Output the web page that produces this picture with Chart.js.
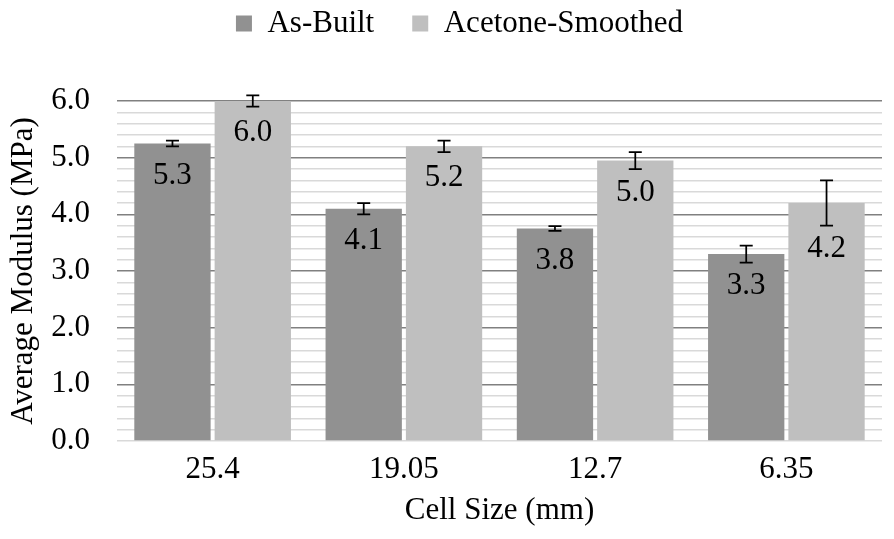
<!DOCTYPE html>
<html>
<head>
<meta charset="utf-8">
<script src="https://cdn.jsdelivr.net/npm/chart.js@4"></script>
<style>
  html, body { margin: 0; padding: 0; background: #fff; }
  #wrap { width: 894px; height: 539px; position: relative; }
</style>
</head>
<body>
<div id="wrap"><canvas id="modulusChart"></canvas></div>
<script>
// data
const cellSizes = ["25.4", "19.05", "12.7", "6.35"];
const asBuilt = [5.25, 4.1, 3.75, 3.3];
const asBuiltErr = [0.05, 0.1, 0.04, 0.15];
const asBuiltLabels = ["5.3", "4.1", "3.8", "3.3"];
const smoothed = [6.0, 5.2, 4.95, 4.2];
const smoothedErr = [0.1, 0.1, 0.15, 0.4];
const smoothedLabels = ["6.0", "5.2", "5.0", "4.2"];

const serif = "'Liberation Serif', 'Times New Roman', serif";
const errs = [asBuiltErr, smoothedErr];
const valueLabels = [asBuiltLabels, smoothedLabels];

// bump the legend box so the plot starts lower
const legendSpace = {
  id: 'legendSpace',
  beforeInit(chart) {
    const fit = chart.legend.fit;
    chart.legend.fit = function () {
      fit.bind(chart.legend)();
      this.height += 52;
    };
  },
  afterLayout(chart) {
    chart.legend.left += 16;
    chart.legend.right += 16;
  }
};

// error bars + value labels inside the bar ends
const barExtras = {
  id: 'barExtras',
  afterDatasetsDraw(chart) {
    const ctx = chart.ctx;
    const y = chart.scales.y;
    chart.data.datasets.forEach((ds, di) => {
      const meta = chart.getDatasetMeta(di);
      meta.data.forEach((bar, i) => {
        const v = ds.data[i];
        const e = errs[di][i];
        const yHi = y.getPixelForValue(v + e);
        const yLo = y.getPixelForValue(v - e);
        ctx.save();
        ctx.strokeStyle = '#000';
        ctx.lineWidth = 1.75;
        ctx.beginPath();
        ctx.moveTo(bar.x, yHi);
        ctx.lineTo(bar.x, yLo);
        ctx.moveTo(bar.x - 6.5, yHi);
        ctx.lineTo(bar.x + 6.5, yHi);
        ctx.moveTo(bar.x - 6.5, yLo);
        ctx.lineTo(bar.x + 6.5, yLo);
        ctx.stroke();

        const ty = Math.max(bar.y + 32, yLo + 23);
        ctx.fillStyle = '#000';
        ctx.font = '31px ' + serif;
        ctx.textAlign = 'center';
        ctx.textBaseline = 'middle';
        ctx.fillText(valueLabels[di][i], bar.x, ty);
        ctx.restore();
      });
    });
  }
};

const ctx = document.getElementById('modulusChart').getContext('2d');
new Chart(ctx, {
  type: 'bar',
  data: {
    labels: cellSizes,
    datasets: [
      {
        label: 'As-Built',
        data: asBuilt,
        backgroundColor: '#919191',
        barPercentage: 0.95,
        categoryPercentage: 0.84
      },
      {
        label: 'Acetone-Smoothed',
        data: smoothed,
        backgroundColor: '#bfbfbf',
        barPercentage: 0.95,
        categoryPercentage: 0.84
      }
    ]
  },
  options: {
    responsive: true,
    maintainAspectRatio: false,
    animation: false,
    layout: {
      padding: { top: -30, left: 5, right: 12, bottom: 8 }
    },
    scales: {
      x: {
        afterFit: s => { s.height = 90; },
        grid: { display: false },
        border: { display: false },
        ticks: {
          color: '#000',
          padding: 2,
          font: { family: serif, size: 31 }
        },
        title: {
          display: true,
          text: 'Cell Size (mm)',
          color: '#000',
          padding: { top: 4, bottom: 2 },
          font: { family: serif, size: 31 }
        }
      },
      y: {
        min: 0,
        max: 6,
        afterFit: s => { s.width = 112; },
        border: { display: false },
        grid: {
          drawTicks: false,
          lineWidth: 1.5,
          color: c => {
            const v = c.tick ? c.tick.value : 0;
            const major = Math.abs(v - Math.round(v)) < 1e-6 && v > 0;
            return major ? '#808080' : '#d9d9d9';
          }
        },
        ticks: {
          stepSize: 0.2,
          autoSkip: false,
          padding: 27,
          color: '#000',
          font: { family: serif, size: 31 },
          callback: v => Math.abs(v - Math.round(v)) < 1e-6 ? Number(v).toFixed(1) : ''
        },
        title: {
          display: true,
          text: 'Average Modulus (MPa)',
          color: '#000',
          padding: { top: 0, bottom: 10 },
          font: { family: serif, size: 31 }
        }
      }
    },
    plugins: {
      legend: {
        position: 'top',
        labels: {
          color: '#000',
          boxWidth: 16,
          boxHeight: 16,
          padding: 38,
          font: { family: serif, size: 31 }
        }
      },
      tooltip: { enabled: false }
    }
  },
  plugins: [legendSpace, barExtras]
});
</script>
</body>
</html>
